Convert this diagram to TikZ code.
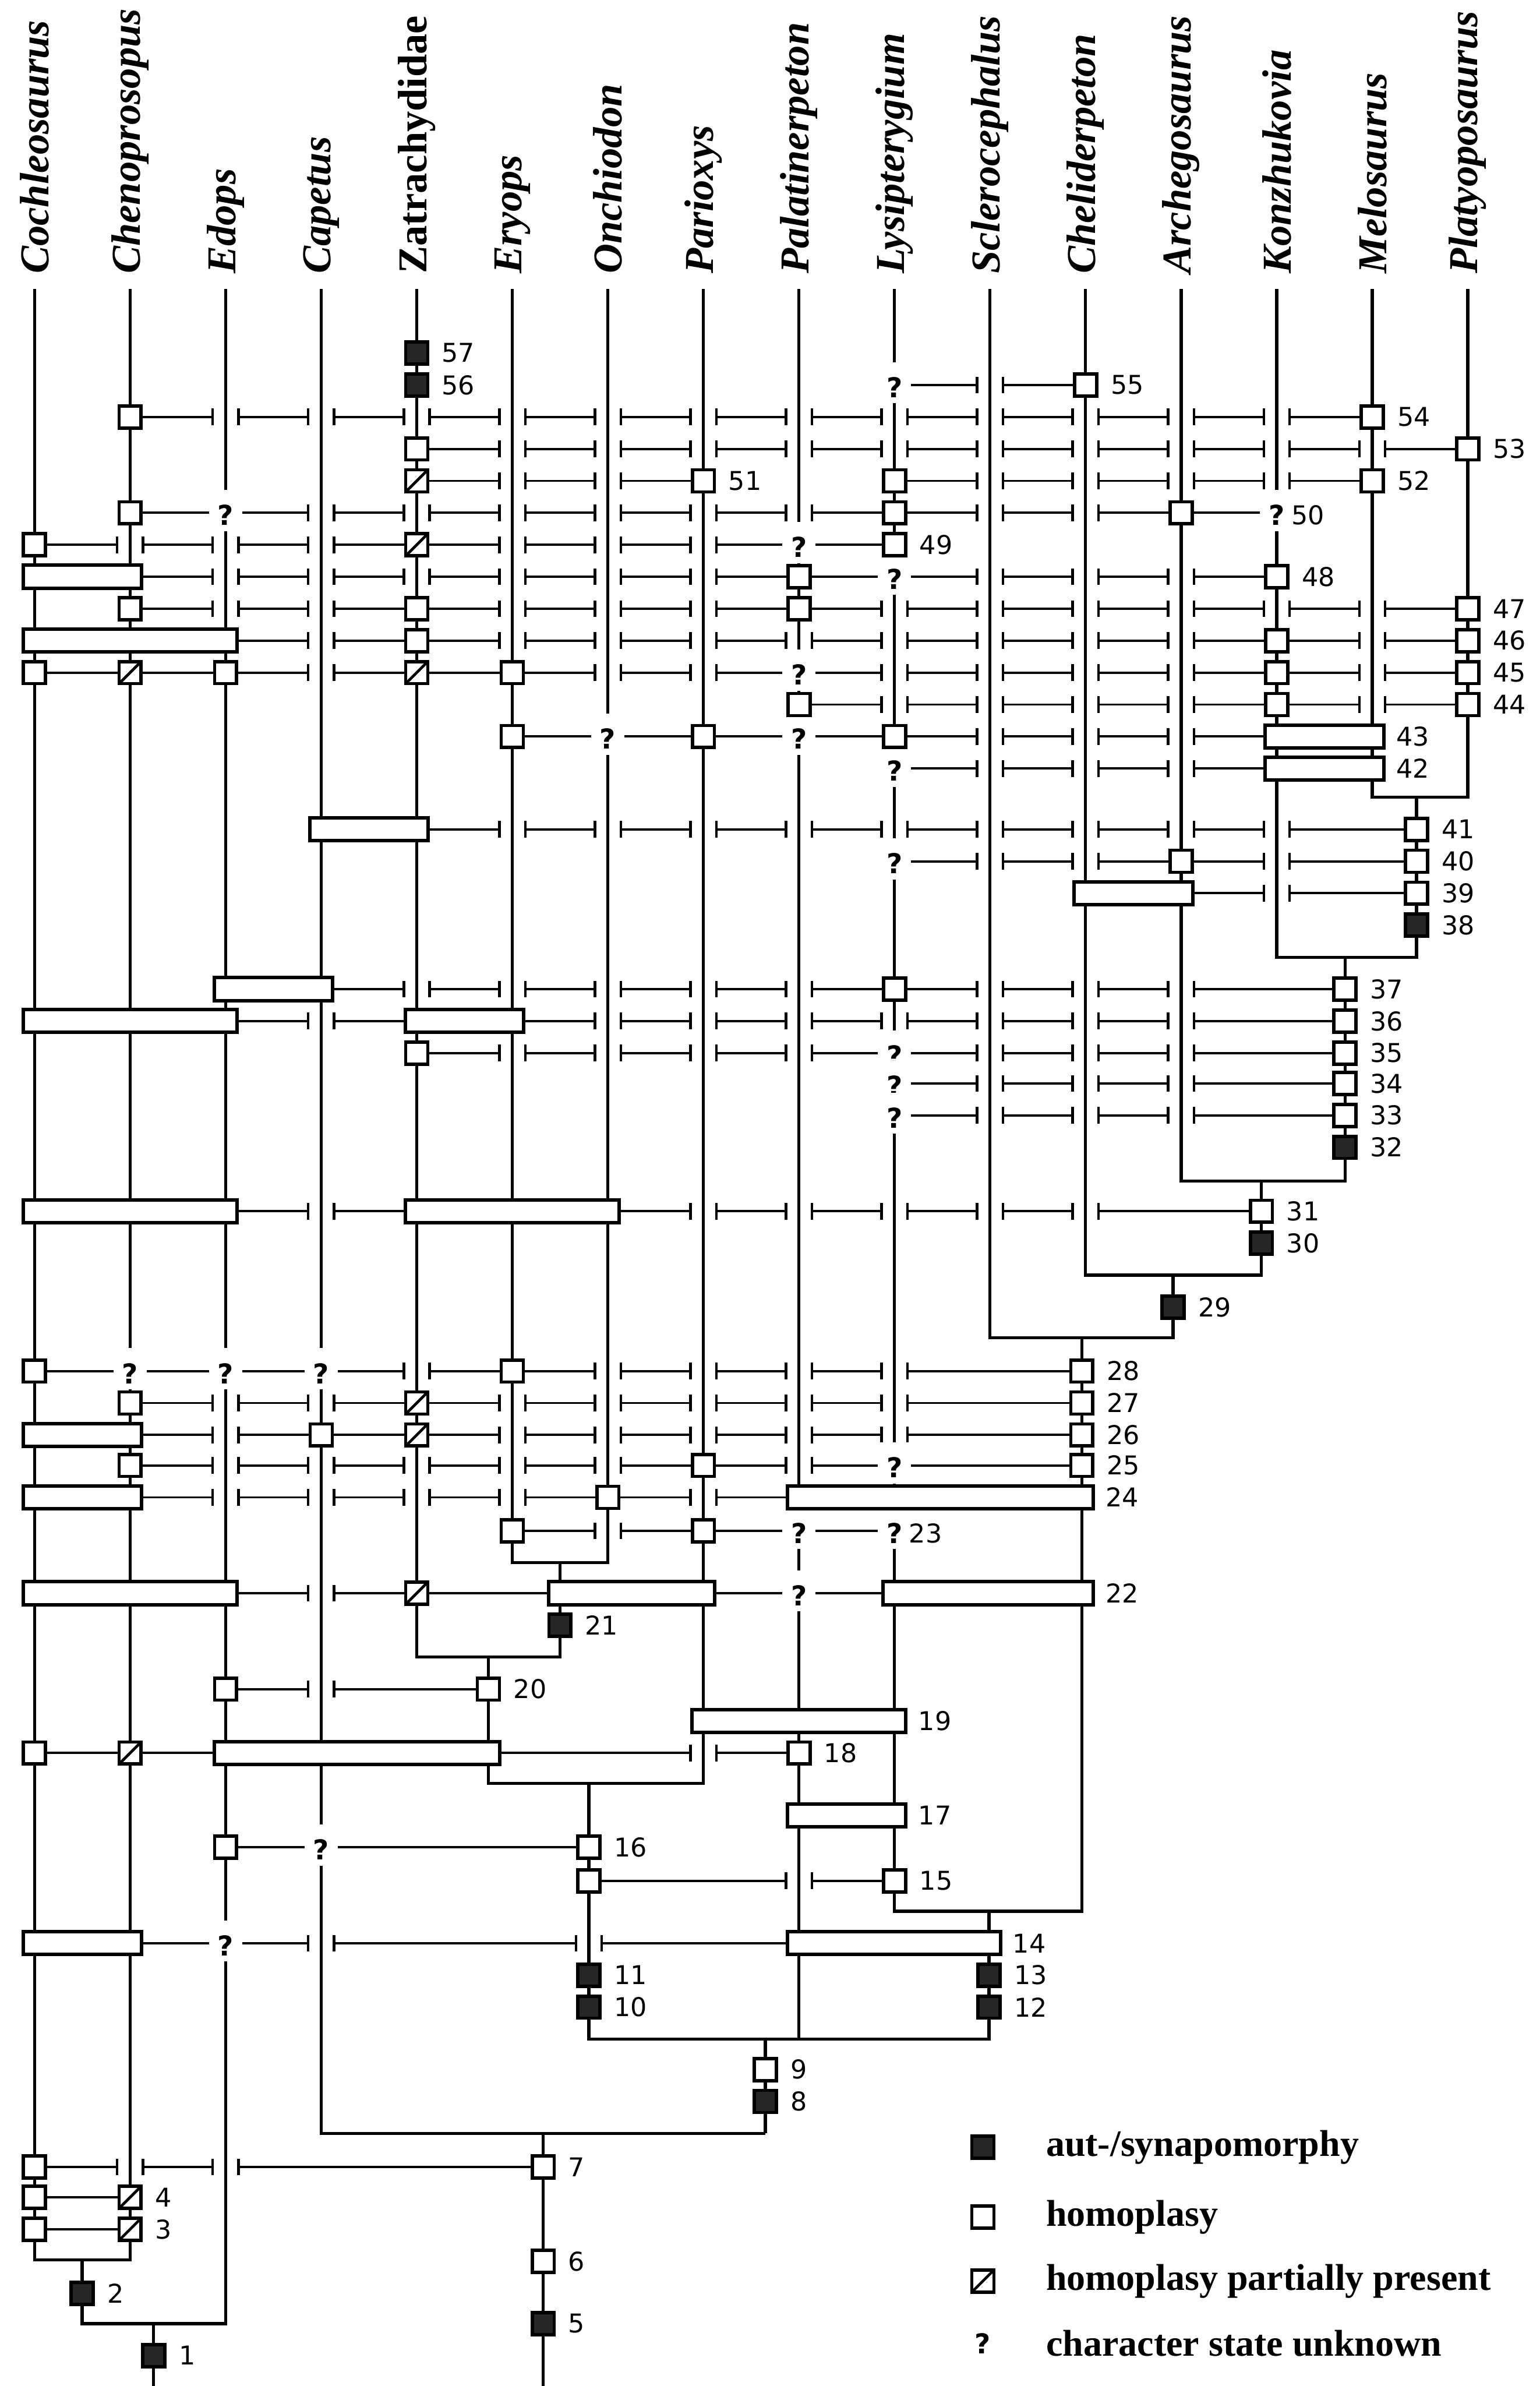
\documentclass[tikz,border=0pt]{standalone}
\usepackage{fontspec}
\setmainfont{Liberation Serif}
\newfontfamily\numfont{DejaVu Sans}
\usetikzlibrary{positioning}

% lineage positions, left to right
\def\xCo{22.7}  % Cochleosaurus
\def\xCh{85.5}  % Chenoprosopus
\def\xEd{148.3} % Edops
\def\xCa{211.1} % Capetus
\def\xZa{273.9} % Zatrachydidae
\def\xEr{336.7} % Eryops
\def\xOn{399.5} % Onchiodon
\def\xPa{462.3} % Parioxys
\def\xPl{525.1} % Palatinerpeton
\def\xLy{587.9} % Lysipterygium
\def\xSc{650.7} % Sclerocephalus
\def\xCl{713.5} % Cheliderpeton
\def\xAr{776.3} % Archegosaurus
\def\xKo{839.1} % Konzhukovia
\def\xMe{901.9} % Melosaurus
\def\xPt{964.7} % Platyoposaurus
% stems below the nodes
\def\sMP{931}
\def\sKo{884}
\def\sAr{829}
\def\sCl{771}
\def\sSc{711}
\def\sLy{650}
\def\sOn{368}
\def\sZa{321}
\def\sPa{387}
\def\sPl{503}
\def\sCa{357}
\def\sCh{54}
\def\sEd{101}

% gap with end ticks where a character line passes a lineage
\newcommand{\passby}[2]{%
  \foreach \gx in {#1} {%
    \fill[white] (\gx-8.5,#2-2.5) rectangle (\gx+8.5,#2+2.5);
    \draw[tick] (\gx-8.5,#2-5.5) -- (\gx-8.5,#2+5.5);
    \draw[tick] (\gx+8.5,#2-5.5) -- (\gx+8.5,#2+5.5);
  }}
% character state unknown
\newcommand{\unkstate}[3]{%
  \fill[white] (#2-11,#3-15) rectangle (#2+11,#3+12);
  \node[qmark] (#1) at (#2,#3+1.5) {?};}
% character shared by neighbouring lineages
\newcommand{\charbar}[4]{%
  \draw[barbox] (#2-7.5,#4-7.5) rectangle (#3+7.5,#4+7.5);
  \coordinate (#1) at (#3+8.5,#4);}

\begin{document}
\begin{tikzpicture}[x=1pt, y=-1pt,
    lineage/.style={line width=2pt},
    charline/.style={line width=1.5pt},
    tick/.style={line width=1.7pt},
    homo/.style={draw, fill=white, line width=2.2pt, minimum size=14.5pt, inner sep=0pt},
    syn/.style={homo, fill=black!85},
    part/.style={homo, path picture={\draw[line width=1.8pt] (path picture bounding box.south west) -- (path picture bounding box.north east);}},
    barbox/.style={draw, fill=white, line width=2.3pt},
    num/.style={font=\numfont\fontsize{17}{17}\selectfont, inner sep=0pt},
    qmark/.style={font=\numfont\bfseries\fontsize{18}{18}\selectfont, inner sep=0pt},
    taxon/.style={font=\fontsize{27}{27}\selectfont\bfseries\itshape, rotate=90, anchor=west, inner sep=0pt},
    legend/.style={font=\fontsize{24.5}{24.5}\selectfont\bfseries, anchor=west, inner sep=0pt}]

    \useasboundingbox (0,0) rectangle (1012,1568);

    % Taxa
    \node[taxon] (tCo) at (\xCo,180) {Cochleosaurus};
    \node[taxon] (tCh) at (\xCh,180) {Chenoprosopus};
    \node[taxon] (tEd) at (\xEd,180) {Edops};
    \node[taxon] (tCa) at (\xCa,180) {Capetus};
    \node[taxon, font=\fontsize{27}{27}\selectfont\bfseries] (tZa) at (\xZa,180) {Zatrachydidae};
    \node[taxon] (tEr) at (\xEr,180) {Eryops};
    \node[taxon] (tOn) at (\xOn,180) {Onchiodon};
    \node[taxon] (tPa) at (\xPa,180) {Parioxys};
    \node[taxon] (tPl) at (\xPl,180) {Palatinerpeton};
    \node[taxon] (tLy) at (\xLy,180) {Lysipterygium};
    \node[taxon] (tSc) at (\xSc,180) {Sclerocephalus};
    \node[taxon] (tCl) at (\xCl,180) {Cheliderpeton};
    \node[taxon] (tAr) at (\xAr,180) {Archegosaurus};
    \node[taxon] (tKo) at (\xKo,180) {Konzhukovia};
    \node[taxon] (tMe) at (\xMe,180) {Melosaurus};
    \node[taxon] (tPt) at (\xPt,180) {Platyoposaurus};

    % Character lines
    \draw[charline] (\xLy,253) -- (\xCl,253);
    \passby{\xSc}{253}
    \draw[charline] (\xCh,274) -- (\xMe,274);
    \passby{\xEd,\xCa,\xZa,\xEr,\xOn,\xPa,\xPl,\xLy,\xSc,\xCl,\xAr,\xKo}{274}
    \draw[charline] (\xZa,295) -- (\xPt,295);
    \passby{\xEr,\xOn,\xPa,\xPl,\xLy,\xSc,\xCl,\xAr,\xKo,\xMe}{295}
    \draw[charline] (\xZa,316) -- (\xPa,316);
    \passby{\xEr,\xOn}{316}
    \draw[charline] (\xLy,316) -- (\xMe,316);
    \passby{\xSc,\xCl,\xAr,\xKo}{316}
    \draw[charline] (\xCh,337) -- (\xKo,337);
    \passby{\xCa,\xZa,\xEr,\xOn,\xPa,\xPl,\xSc,\xCl}{337}
    \draw[charline] (\xCo,358) -- (\xLy,358);
    \passby{\xCh,\xEd,\xCa,\xEr,\xOn,\xPa}{358}
    \draw[charline] (\xCo,379) -- (\xKo,379);
    \passby{\xEd,\xCa,\xZa,\xEr,\xOn,\xPa,\xSc,\xCl,\xAr}{379}
    \draw[charline] (\xCh,400) -- (\xPt,400);
    \passby{\xEd,\xCa,\xEr,\xOn,\xPa,\xLy,\xSc,\xCl,\xAr,\xKo,\xMe}{400}
    \draw[charline] (\xCo,421) -- (\xPt,421);
    \passby{\xCa,\xEr,\xOn,\xPa,\xPl,\xLy,\xSc,\xCl,\xAr,\xMe}{421}
    \draw[charline] (\xCo,442) -- (\xPt,442);
    \passby{\xCa,\xOn,\xPa,\xLy,\xSc,\xCl,\xAr,\xMe}{442}
    \draw[charline] (\xPl,463) -- (\xPt,463);
    \passby{\xLy,\xSc,\xCl,\xAr,\xMe}{463}
    \draw[charline] (\xEr,484) -- (\xKo,484);
    \passby{\xSc,\xCl,\xAr}{484}
    \draw[charline] (\xLy,505) -- (\xKo,505);
    \passby{\xSc,\xCl,\xAr}{505}
    \draw[charline] (\xCa,545) -- (\sMP,545);
    \passby{\xEr,\xOn,\xPa,\xPl,\xLy,\xSc,\xCl,\xAr,\xKo}{545}
    \draw[charline] (\xLy,566) -- (\sMP,566);
    \passby{\xSc,\xCl,\xKo}{566}
    \draw[charline] (\xCl,587) -- (\sMP,587);
    \passby{\xKo}{587}
    \draw[charline] (\xEd,650) -- (\sKo,650);
    \passby{\xZa,\xEr,\xOn,\xPa,\xPl,\xSc,\xCl,\xAr}{650}
    \draw[charline] (\xCo,671) -- (\sKo,671);
    \passby{\xCa,\xOn,\xPa,\xPl,\xLy,\xSc,\xCl,\xAr}{671}
    \draw[charline] (\xZa,692) -- (\sKo,692);
    \passby{\xEr,\xOn,\xPa,\xPl,\xSc,\xCl,\xAr}{692}
    \draw[charline] (\xLy,712) -- (\sKo,712);
    \passby{\xSc,\xCl,\xAr}{712}
    \draw[charline] (\xLy,733) -- (\sKo,733);
    \passby{\xSc,\xCl,\xAr}{733}
    \draw[charline] (\xCo,796) -- (\sAr,796);
    \passby{\xCa,\xPa,\xPl,\xLy,\xSc,\xCl}{796}
    \draw[charline] (\xCo,901) -- (\sSc,901);
    \passby{\xZa,\xOn,\xPa,\xPl,\xLy}{901}
    \draw[charline] (\xCh,922) -- (\sSc,922);
    \passby{\xEd,\xCa,\xEr,\xOn,\xPa,\xPl,\xLy}{922}
    \draw[charline] (\xCo,943) -- (\sSc,943);
    \passby{\xEd,\xEr,\xOn,\xPa,\xPl,\xLy}{943}
    \draw[charline] (\xCh,963) -- (\sSc,963);
    \passby{\xEd,\xCa,\xZa,\xEr,\xOn,\xPl}{963}
    \draw[charline] (\xCo,984) -- (\sSc,984);
    \passby{\xEd,\xCa,\xZa,\xEr,\xPa}{984}
    \draw[charline] (\xEr,1006) -- (\xLy,1006);
    \passby{\xOn}{1006}
    \draw[charline] (\xCo,1047) -- (\sSc,1047);
    \passby{\xCa}{1047}
    \draw[charline] (\xEd,1110) -- (\sZa,1110);
    \passby{\xCa}{1110}
    \draw[charline] (\xCo,1152) -- (\xPl,1152);
    \passby{\xPa}{1152}
    \draw[charline] (\xEd,1214) -- (\sPa,1214);
    \draw[charline] (\sPa,1236) -- (\xLy,1236);
    \passby{\xPl}{1236}
    \draw[charline] (\xCo,1277) -- (\sLy,1277);
    \passby{\xCa,\sPa}{1277}
    \draw[charline] (\xCo,1424) -- (\sCa,1424);
    \passby{\xCh,\xEd}{1424}
    \draw[charline] (\xCo,1444) -- (\xCh,1444);
    \draw[charline] (\xCo,1465) -- (\xCh,1465);

    % Lineages and nodes
    \draw[lineage] (\xCo,190) -- (\xCo,1485) -- (\xCh,1485) -- (\xCh,190);
    \draw[lineage] (\sCh,1485) -- (\sCh,1527) -- (\xEd,1527) -- (\xEd,190);
    \draw[lineage] (\sEd,1527) -- (\sEd,1568);
    \draw[lineage] (\xEr,190) -- (\xEr,1027) -- (\xOn,1027) -- (\xOn,190);
    \draw[lineage] (\xZa,190) -- (\xZa,1089) -- (\sOn,1089) -- (\sOn,1027);
    \draw[lineage] (\sZa,1089) -- (\sZa,1172) -- (\xPa,1172) -- (\xPa,190);
    \draw[lineage] (\xMe,190) -- (\xMe,524) -- (\xPt,524) -- (\xPt,190);
    \draw[lineage] (\xKo,190) -- (\xKo,629) -- (\sMP,629) -- (\sMP,524);
    \draw[lineage] (\xAr,190) -- (\xAr,776) -- (\sKo,776) -- (\sKo,629);
    \draw[lineage] (\xCl,190) -- (\xCl,838) -- (\sAr,838) -- (\sAr,776);
    \draw[lineage] (\xSc,190) -- (\xSc,879) -- (\sCl,879) -- (\sCl,838);
    \draw[lineage] (\xLy,190) -- (\xLy,1256) -- (\sSc,1256) -- (\sSc,879);
    \draw[lineage] (\sPa,1172) -- (\sPa,1340) -- (\sLy,1340) -- (\sLy,1256);
    \draw[lineage] (\xPl,190) -- (\xPl,1340);
    \draw[lineage] (\sPl,1340) -- (\sPl,1402);
    \draw[lineage] (\xCa,190) -- (\xCa,1402) -- (\sPl,1402);
    \draw[lineage] (\sCa,1402) -- (\sCa,1568);

    % Unknown states
    \unkstate{u55}{\xLy}{253}
    \unkstate{u50}{\xEd}{337}
    \unkstate{q50}{\xKo}{337}
    \unkstate{u49}{\xPl}{358}
    \unkstate{u48}{\xLy}{379}
    \unkstate{u45}{\xPl}{442}
    \unkstate{u43a}{\xOn}{484}
    \unkstate{u43b}{\xPl}{484}
    \unkstate{u42}{\xLy}{505}
    \unkstate{u40}{\xLy}{566}
    \unkstate{u35}{\xLy}{692}
    \unkstate{u34}{\xLy}{712}
    \unkstate{u33}{\xLy}{733}
    \unkstate{u28a}{\xCh}{901}
    \unkstate{u28b}{\xEd}{901}
    \unkstate{u28c}{\xCa}{901}
    \unkstate{u25}{\xLy}{963}
    \unkstate{u23}{\xPl}{1006}
    \unkstate{q23}{\xLy}{1006}
    \unkstate{u22}{\xPl}{1047}
    \unkstate{u16}{\xCa}{1214}
    \unkstate{u14}{\xEd}{1277}

    % Characters 57 - 42
    \node[syn] (c57) at (\xZa,232) {};
    \node[num, right=8pt of c57] (n57) {57};
    \node[syn] (c56) at (\xZa,253) {};
    \node[num, right=8pt of c56] (n56) {56};
    \node[homo] (c55) at (\xCl,253) {};
    \node[num, right=8pt of c55] (n55) {55};
    \node[homo] (c54a) at (\xCh,274) {};
    \node[homo] (c54) at (\xMe,274) {};
    \node[num, right=8pt of c54] (n54) {54};
    \node[homo] (c53a) at (\xZa,295) {};
    \node[homo] (c53) at (\xPt,295) {};
    \node[num, right=8pt of c53] (n53) {53};
    \node[part] (c51a) at (\xZa,316) {};
    \node[homo] (c51) at (\xPa,316) {};
    \node[num, right=8pt of c51] (n51) {51};
    \node[homo] (c52a) at (\xLy,316) {};
    \node[homo] (c52) at (\xMe,316) {};
    \node[num, right=8pt of c52] (n52) {52};
    \node[homo] (c50a) at (\xCh,337) {};
    \node[homo] (c50b) at (\xLy,337) {};
    \node[homo] (c50c) at (\xAr,337) {};
    \node[num, right=4pt of q50] (n50) {50};
    \node[homo] (c49a) at (\xCo,358) {};
    \node[part] (c49b) at (\xZa,358) {};
    \node[homo] (c49) at (\xLy,358) {};
    \node[num, right=8pt of c49] (n49) {49};
    \charbar{b48}{\xCo}{\xCh}{379}
    \node[homo] (c48a) at (\xPl,379) {};
    \node[homo] (c48) at (\xKo,379) {};
    \node[num, right=8pt of c48] (n48) {48};
    \node[homo] (c47a) at (\xCh,400) {};
    \node[homo] (c47b) at (\xZa,400) {};
    \node[homo] (c47c) at (\xPl,400) {};
    \node[homo] (c47) at (\xPt,400) {};
    \node[num, right=8pt of c47] (n47) {47};
    \charbar{b46}{\xCo}{\xEd}{421}
    \node[homo] (c46a) at (\xZa,421) {};
    \node[homo] (c46b) at (\xKo,421) {};
    \node[homo] (c46) at (\xPt,421) {};
    \node[num, right=8pt of c46] (n46) {46};
    \node[homo] (c45a) at (\xCo,442) {};
    \node[part] (c45b) at (\xCh,442) {};
    \node[homo] (c45c) at (\xEd,442) {};
    \node[part] (c45d) at (\xZa,442) {};
    \node[homo] (c45e) at (\xEr,442) {};
    \node[homo] (c45f) at (\xKo,442) {};
    \node[homo] (c45) at (\xPt,442) {};
    \node[num, right=8pt of c45] (n45) {45};
    \node[homo] (c44a) at (\xPl,463) {};
    \node[homo] (c44b) at (\xKo,463) {};
    \node[homo] (c44) at (\xPt,463) {};
    \node[num, right=8pt of c44] (n44) {44};
    \node[homo] (c43a) at (\xEr,484) {};
    \node[homo] (c43b) at (\xPa,484) {};
    \node[homo] (c43c) at (\xLy,484) {};
    \charbar{b43}{\xKo}{\xMe}{484}
    \node[num, right=7pt of b43] (n43) {43};
    \charbar{b42}{\xKo}{\xMe}{505}
    \node[num, right=7pt of b42] (n42) {42};

    % Characters 41 - 22
    \charbar{b41}{\xCa}{\xZa}{545}
    \node[homo] (c41) at (\sMP,545) {};
    \node[num, right=8pt of c41] (n41) {41};
    \node[homo] (c40a) at (\xAr,566) {};
    \node[homo] (c40) at (\sMP,566) {};
    \node[num, right=8pt of c40] (n40) {40};
    \charbar{b39}{\xCl}{\xAr}{587}
    \node[homo] (c39) at (\sMP,587) {};
    \node[num, right=8pt of c39] (n39) {39};
    \node[syn] (c38) at (\sMP,608) {};
    \node[num, right=8pt of c38] (n38) {38};
    \charbar{b37}{\xEd}{\xCa}{650}
    \node[homo] (c37a) at (\xLy,650) {};
    \node[homo] (c37) at (\sKo,650) {};
    \node[num, right=8pt of c37] (n37) {37};
    \charbar{b36a}{\xCo}{\xEd}{671}
    \charbar{b36b}{\xZa}{\xEr}{671}
    \node[homo] (c36) at (\sKo,671) {};
    \node[num, right=8pt of c36] (n36) {36};
    \node[homo] (c35a) at (\xZa,692) {};
    \node[homo] (c35) at (\sKo,692) {};
    \node[num, right=8pt of c35] (n35) {35};
    \node[homo] (c34) at (\sKo,712) {};
    \node[num, right=8pt of c34] (n34) {34};
    \node[homo] (c33) at (\sKo,733) {};
    \node[num, right=8pt of c33] (n33) {33};
    \node[syn] (c32) at (\sKo,754) {};
    \node[num, right=8pt of c32] (n32) {32};
    \charbar{b31a}{\xCo}{\xEd}{796}
    \charbar{b31b}{\xZa}{\xOn}{796}
    \node[homo] (c31) at (\sAr,796) {};
    \node[num, right=8pt of c31] (n31) {31};
    \node[syn] (c30) at (\sAr,817) {};
    \node[num, right=8pt of c30] (n30) {30};
    \node[syn] (c29) at (\sCl,859) {};
    \node[num, right=8pt of c29] (n29) {29};
    \node[homo] (c28a) at (\xCo,901) {};
    \node[homo] (c28b) at (\xEr,901) {};
    \node[homo] (c28) at (\sSc,901) {};
    \node[num, right=8pt of c28] (n28) {28};
    \node[homo] (c27a) at (\xCh,922) {};
    \node[part] (c27b) at (\xZa,922) {};
    \node[homo] (c27) at (\sSc,922) {};
    \node[num, right=8pt of c27] (n27) {27};
    \charbar{b26}{\xCo}{\xCh}{943}
    \node[homo] (c26a) at (\xCa,943) {};
    \node[part] (c26b) at (\xZa,943) {};
    \node[homo] (c26) at (\sSc,943) {};
    \node[num, right=8pt of c26] (n26) {26};
    \node[homo] (c25a) at (\xCh,963) {};
    \node[homo] (c25b) at (\xPa,963) {};
    \node[homo] (c25) at (\sSc,963) {};
    \node[num, right=8pt of c25] (n25) {25};
    \charbar{b24a}{\xCo}{\xCh}{984}
    \node[homo] (c24a) at (\xOn,984) {};
    \charbar{b24}{\xPl}{\sSc}{984}
    \node[num, right=7pt of b24] (n24) {24};
    \node[homo] (c23a) at (\xEr,1006) {};
    \node[homo] (c23b) at (\xPa,1006) {};
    \node[num, right=4pt of q23] (n23) {23};
    \charbar{b22a}{\xCo}{\xEd}{1047}
    \node[part] (c22a) at (\xZa,1047) {};
    \charbar{b22b}{\sOn}{\xPa}{1047}
    \charbar{b22}{\xLy}{\sSc}{1047}
    \node[num, right=7pt of b22] (n22) {22};

    % Characters 21 - 1
    \node[syn] (c21) at (\sOn,1068) {};
    \node[num, right=8pt of c21] (n21) {21};
    \node[homo] (c20a) at (\xEd,1110) {};
    \node[homo] (c20) at (\sZa,1110) {};
    \node[num, right=8pt of c20] (n20) {20};
    \charbar{b19}{\xPa}{\xLy}{1131}
    \node[num, right=7pt of b19] (n19) {19};
    \node[homo] (c18a) at (\xCo,1152) {};
    \node[part] (c18b) at (\xCh,1152) {};
    \charbar{b18}{\xEd}{\sZa}{1152}
    \node[homo] (c18) at (\xPl,1152) {};
    \node[num, right=8pt of c18] (n18) {18};
    \charbar{b17}{\xPl}{\xLy}{1193}
    \node[num, right=7pt of b17] (n17) {17};
    \node[homo] (c16a) at (\xEd,1214) {};
    \node[homo] (c16) at (\sPa,1214) {};
    \node[num, right=8pt of c16] (n16) {16};
    \node[homo] (c15a) at (\sPa,1236) {};
    \node[homo] (c15) at (\xLy,1236) {};
    \node[num, right=8pt of c15] (n15) {15};
    \charbar{b14a}{\xCo}{\xCh}{1277}
    \charbar{b14}{\xPl}{\sLy}{1277}
    \node[num, right=7pt of b14] (n14) {14};
    \node[syn] (c11) at (\sPa,1298) {};
    \node[num, right=8pt of c11] (n11) {11};
    \node[syn] (c10) at (\sPa,1319) {};
    \node[num, right=8pt of c10] (n10) {10};
    \node[syn] (c13) at (\sLy,1298) {};
    \node[num, right=8pt of c13] (n13) {13};
    \node[syn] (c12) at (\sLy,1319) {};
    \node[num, right=8pt of c12] (n12) {12};
    \node[homo] (c9) at (\sPl,1360) {};
    \node[num, right=8pt of c9] (n9) {9};
    \node[syn] (c8) at (\sPl,1381) {};
    \node[num, right=8pt of c8] (n8) {8};
    \node[homo] (c7a) at (\xCo,1424) {};
    \node[homo] (c7) at (\sCa,1424) {};
    \node[num, right=8pt of c7] (n7) {7};
    \node[homo] (c4a) at (\xCo,1444) {};
    \node[part] (c4) at (\xCh,1444) {};
    \node[num, right=8pt of c4] (n4) {4};
    \node[homo] (c3a) at (\xCo,1465) {};
    \node[part] (c3) at (\xCh,1465) {};
    \node[num, right=8pt of c3] (n3) {3};
    \node[homo] (c6) at (\sCa,1486) {};
    \node[num, right=8pt of c6] (n6) {6};
    \node[syn] (c2) at (\sCh,1507) {};
    \node[num, right=8pt of c2] (n2) {2};
    \node[syn] (c5) at (\sCa,1527) {};
    \node[num, right=8pt of c5] (n5) {5};
    \node[syn] (c1) at (\sEd,1548) {};
    \node[num, right=8pt of c1] (n1) {1};

    % Legend
    \node[syn] (lsyn) at (646,1411) {};
    \node[legend, right=33pt of lsyn] (tsyn) {aut-/synapomorphy};
    \node[homo] (lhomo) at (646,1457) {};
    \node[legend, right=33pt of lhomo] (thomo) {homoplasy};
    \node[part] (lpart) at (646,1499) {};
    \node[legend, right=33pt of lpart] (tpart) {homoplasy partially present};
    \node[qmark] (lunk) at (646,1540) {?};
    \node[legend, right=36pt of lunk] (tunk) {character state unknown};

\end{tikzpicture}
\end{document}
